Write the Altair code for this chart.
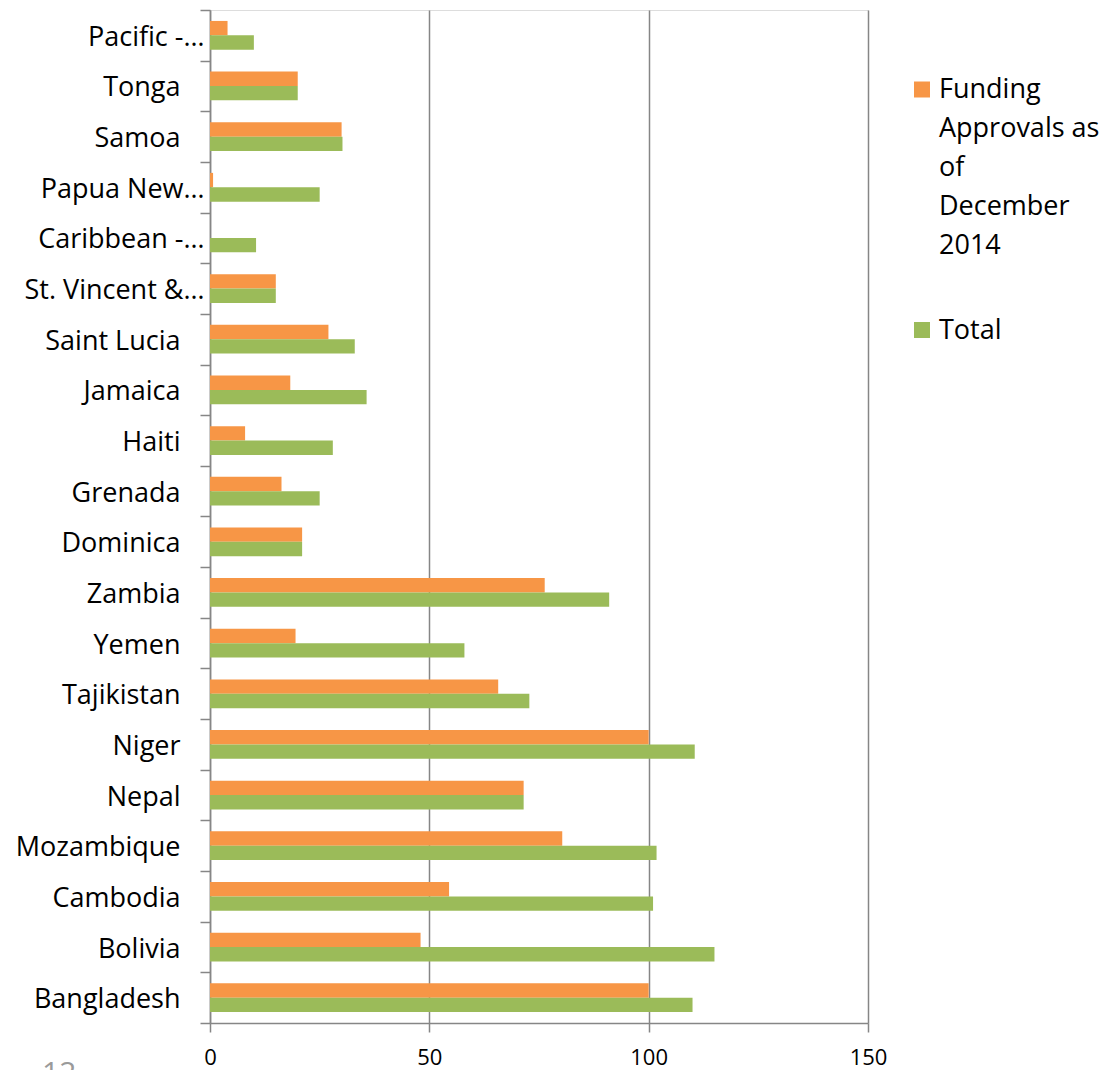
import altair as alt
import pandas as pd

countries = ["Pacific -…", "Tonga", "Samoa", "Papua New…", "Caribbean -…",
             "St. Vincent &…", "Saint Lucia", "Jamaica", "Haiti", "Grenada",
             "Dominica", "Zambia", "Yemen", "Tajikistan", "Niger", "Nepal",
             "Mozambique", "Cambodia", "Bolivia", "Bangladesh"]
funding = [4, 20, 30, 0.7, 0, 15, 27, 18.3, 8, 16.3,
           21, 76.3, 19.5, 65.7, 100, 71.5, 80.3, 54.5, 48, 100]
total = [10, 20, 30.2, 25, 10.5, 15, 33, 35.7, 28, 25,
         21, 91, 58, 72.8, 110.5, 71.5, 101.8, 101, 115, 110]
series = ["Funding Approvals as of December 2014", "Total"]
legend_lines = ["Funding\nApprovals as\nof\nDecember\n2014", "Total"]
colors = ["#F79646", "#9BBB59"]
x_ticks = [0, 50, 100, 150]

rows = []
for c, f, t in zip(countries, funding, total):
    rows.append({"country": c, "series": series[0], "value": f})
    rows.append({"country": c, "series": series[1], "value": t})
df = pd.DataFrame(rows)

FONT = "Open Sans"
GRAY = "#868686"
color_scale = alt.Scale(domain=series, range=colors)

bars = alt.Chart(df).mark_bar().encode(
    x=alt.X("value:Q", title=None,
            scale=alt.Scale(domain=[0, 150], nice=False),
            axis=alt.Axis(values=x_ticks, grid=True, gridColor=GRAY, gridWidth=1.5,
                          domainColor=GRAY, domainWidth=1.5, tickColor=GRAY,
                          tickSize=9, tickWidth=1.5, labelFont=FONT, labelFontSize=22,
                          labelColor="black", labelPadding=15, labelFlush=False)),
    y=alt.Y("country:N", title=None, sort=countries,
            scale=alt.Scale(paddingInner=0, paddingOuter=0),
            axis=alt.Axis(grid=False, domainColor=GRAY, domainWidth=1.5,
                          tickColor=GRAY, tickSize=10, tickWidth=1.5, tickBand="extent",
                          labelFont=FONT, labelFontSize=27, labelColor="black",
                          labelLimit=300, labelOffset=2,
                          labelPadding={"condition": {"test": "indexof(datum.label, '…') >= 0",
                                                      "value": -4},
                                        "value": 20})),
    yOffset=alt.YOffset("series:N", sort=series,
                        scale=alt.Scale(paddingInner=0, paddingOuter=0.76)),
    color=alt.Color("series:N", scale=color_scale, legend=None),
)

layers = [bars]
legend_pos = [(712, 79.5, 80), (712, 320, 321)]
for s, lab, (sx, sy, ty) in zip(series, legend_lines, legend_pos):
    d = pd.DataFrame({"series": [s], "label": [lab]})
    sq = alt.Chart(d).mark_square(size=256, opacity=1).encode(
        x=alt.value(sx), y=alt.value(sy),
        color=alt.Color("series:N", scale=color_scale, legend=None))
    tx = alt.Chart(d).mark_text(align="left", baseline="middle", font=FONT, fontSize=27,
                                lineBreak="\n", lineHeight=39, color="black").encode(
        x=alt.value(sx + 17), y=alt.value(ty), text="label:N")
    layers += [sq, tx]

page = alt.Chart(pd.DataFrame({"t": ["12"]})).mark_text(
    align="left", baseline="alphabetic", font=FONT, fontSize=30, color="#9a9a9a").encode(
    x=alt.value(-168), y=alt.value(1073), text="t:N")
layers.append(page)

chart = alt.layer(*layers).properties(
    width=658, height=1013,
    padding={"left": 210, "top": 10, "right": 238, "bottom": 47},
    autosize=alt.AutoSizeParams(type="none"),
).configure_view(stroke=None).configure(background="white")

chart.save("out.html", embed_options={"renderer": "svg", "actions": False})
